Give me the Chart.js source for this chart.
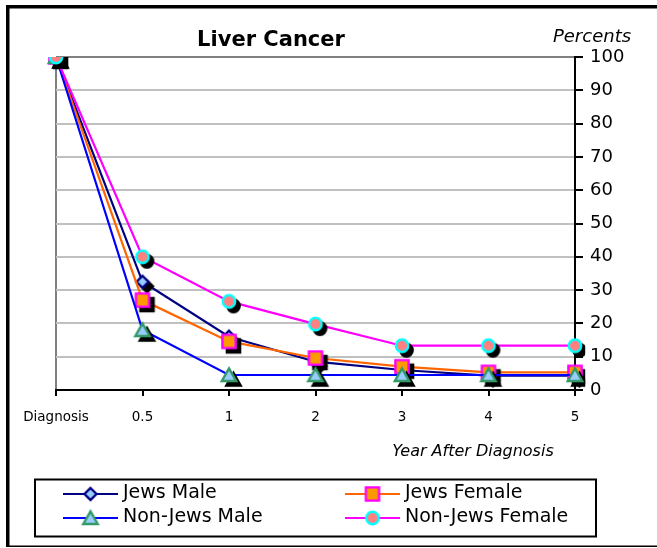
<!DOCTYPE html>
<html>
<head>
<meta charset="utf-8">
<title>Liver Cancer</title>
<script src="https://cdn.jsdelivr.net/npm/chart.js@4.4.1/dist/chart.umd.min.js"></script>
<style>
  html, body { margin: 0; padding: 0; background: #ffffff; }
  #wrap { position: relative; width: 657px; height: 548px; }
</style>
</head>
<body>
<div id="wrap"><canvas id="chart" width="657" height="548"></canvas></div>
<script>
// Survival after diagnosis, percent
const categories = ['Diagnosis', '0.5', '1', '2', '3', '4', '5'];
const jewsMale = [100, 32.5, 16, 8.5, 6, 4.3, 4.3];
const jewsFemale = [100, 27, 14.6, 9.6, 7, 5.3, 5.3];
const nonJewsMale = [100, 18, 4.5, 4.5, 4.5, 4.5, 4.5];
const nonJewsFemale = [100, 40, 26.6, 19.8, 13.3, 13.3, 13.3];
const seriesNames = ['Jews Male', 'Jews Female', 'Non-Jews Male', 'Non-Jews Female'];
const yTicks = [0, 10, 20, 30, 40, 50, 60, 70, 80, 90, 100];

const FONT = "'DejaVu Sans', Verdana, sans-serif";

// Marker shapes rendered into small canvases (optionally with a drop shadow)
function shapePath(ctx, shape, cx, cy) {
  ctx.beginPath();
  if (shape === 'diamond') {
    const r = 6;
    ctx.moveTo(cx, cy - r); ctx.lineTo(cx + r, cy); ctx.lineTo(cx, cy + r); ctx.lineTo(cx - r, cy);
    ctx.closePath();
  } else if (shape === 'square') {
    const r = 6.6;
    ctx.rect(cx - r, cy - r, 2 * r, 2 * r);
  } else if (shape === 'triangle') {
    ctx.moveTo(cx, cy - 6.6); ctx.lineTo(cx + 7.2, cy + 6); ctx.lineTo(cx - 7.2, cy + 6);
    ctx.closePath();
  } else {
    ctx.arc(cx, cy, 6.2, 0, Math.PI * 2);
  }
}
function makeMarker(shape, fill, stroke, withShadow) {
  const S = 34, c = document.createElement('canvas');
  c.width = S; c.height = S;
  const g = c.getContext('2d');
  g.lineJoin = 'miter';
  g.lineWidth = 2.4;
  if (withShadow) {
    shapePath(g, shape, S / 2 + 4.5, S / 2 + 4.5);
    g.fillStyle = '#000'; g.strokeStyle = '#000';
    g.fill(); g.stroke();
  }
  shapePath(g, shape, S / 2, S / 2);
  g.fillStyle = fill; g.strokeStyle = stroke;
  g.fill(); g.stroke();
  return c;
}

const styles = [
  { line: '#000080', shape: 'diamond', fill: '#99CCFF', stroke: '#000080' },
  { line: '#FF6600', shape: 'square', fill: '#FF9900', stroke: '#FF00FF' },
  { line: '#0000FF', shape: 'triangle', fill: '#99CCFF', stroke: '#339966' },
  { line: '#FF00FF', shape: 'circle', fill: '#FF8080', stroke: '#00FFFF' }
];
const seriesValues = [jewsMale, jewsFemale, nonJewsMale, nonJewsFemale];
const legendMarkers = styles.map(s => makeMarker(s.shape, s.fill, s.stroke, false));

const datasets = seriesValues.map((vals, i) => ({
  label: seriesNames[i],
  data: vals,
  borderColor: styles[i].line,
  backgroundColor: styles[i].fill,
  borderWidth: 2.2,
  tension: 0,
  pointStyle: makeMarker(styles[i].shape, styles[i].fill, styles[i].stroke, true),
  pointRadius: 8,
  order: 3 - i
}));

const decorations = {
  id: 'decorations',
  afterDraw(chart) {
    const ctx = chart.ctx;
    ctx.save();
    // frame
    ctx.fillStyle = '#000';
    ctx.fillRect(6, 5, 3.5, 542);
    ctx.fillRect(6, 5, 651, 3.5);
    ctx.fillRect(6, 545.5, 651, 1.5);

    // title
    ctx.fillStyle = '#000';
    ctx.textAlign = 'center';
    ctx.textBaseline = 'alphabetic';
    ctx.font = "bold 21px " + FONT;
    ctx.fillText('Liver Cancer', 271, 46);

    // axis captions
    ctx.font = "italic 18px " + FONT;
    ctx.fillText('Percents', 592, 42);
    ctx.font = "italic 16px " + FONT;
    ctx.fillText('Year After Diagnosis', 473, 456);

    // legend
    ctx.lineWidth = 2;
    ctx.strokeStyle = '#000';
    ctx.strokeRect(35, 479.5, 561, 57);
    const cols = [63, 345];
    const rows = [494, 518];
    const placement = [[0, 0], [1, 0], [0, 1], [1, 1]];
    ctx.font = "19px " + FONT;
    ctx.textAlign = 'left';
    ctx.textBaseline = 'middle';
    chart.data.datasets.forEach((ds, i) => {
      const x0 = cols[placement[i][0]], y = rows[placement[i][1]];
      ctx.strokeStyle = ds.borderColor;
      ctx.lineWidth = 2.2;
      ctx.beginPath();
      ctx.moveTo(x0, y); ctx.lineTo(x0 + 55, y);
      ctx.stroke();
      const m = legendMarkers[i];
      ctx.drawImage(m, x0 + 27.5 - m.width / 2, y - m.height / 2);
      ctx.fillStyle = '#000';
      ctx.fillText(ds.label, x0 + 60, y - 1);
    });
    ctx.restore();
  }
};

new Chart(document.getElementById('chart'), {
  type: 'line',
  data: { labels: categories, datasets },
  options: {
    responsive: false,
    animation: false,
    events: [],
    layout: { padding: { left: 56, top: 57, right: 0, bottom: 0 } },
    plugins: {
      legend: { display: false },
      title: { display: false },
      tooltip: { enabled: false }
    },
    scales: {
      x: {
        type: 'category',
        offset: false,
        grid: {
          color: c => (c.index === 0 ? '#808080' : 'rgba(0,0,0,0)'),
          lineWidth: 2,
          tickLength: 6,
          tickColor: '#000',
          drawOnChartArea: true
        },
        border: { color: '#000', width: 2 },
        ticks: {
          font: { family: FONT, size: 13.5 },
          color: '#000',
          padding: 13,
          maxRotation: 0,
          autoSkip: false
        },
        afterFit(s) { s.height = 158; }
      },
      y: {
        position: 'right',
        min: 0,
        max: 100,
        afterBuildTicks(s) { s.ticks = yTicks.map(v => ({ value: v })); },
        grid: {
          color: c => (c.tick && c.tick.value === 100 ? '#808080' : '#c0c0c0'),
          lineWidth: 2,
          tickLength: 8,
          tickColor: '#000'
        },
        border: { color: '#000', width: 2 },
        ticks: {
          font: { family: FONT, size: 18 },
          color: '#000',
          padding: 7
        },
        afterFit(s) { s.width = 82; }
      }
    }
  },
  plugins: [decorations]
});
</script>
</body>
</html>
